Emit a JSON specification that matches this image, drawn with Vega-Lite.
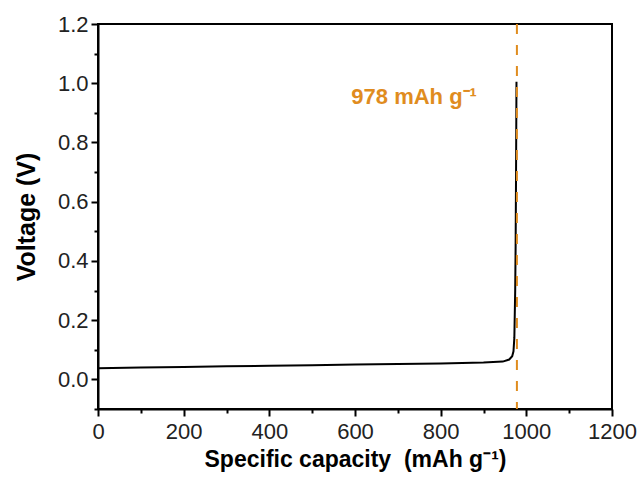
{
  "$schema": "https://vega.github.io/schema/vega-lite/v6.json",
  "autosize": "none",
  "width": 514,
  "height": 385,
  "padding": {"left": 98, "top": 24, "right": 32, "bottom": 75},
  "background": "white",
  "config": {
    "view": {"stroke": "black", "strokeWidth": 2},
    "font": "Liberation Sans",
    "axis": {
      "grid": false,
      "domainColor": "black",
      "domainWidth": 2,
      "tickColor": "black",
      "tickWidth": 2,
      "labelFont": "Liberation Sans",
      "labelFontSize": 22,
      "labelColor": "#222",
      "titleFont": "Liberation Sans",
      "titleFontWeight": "bold",
      "titleColor": "black"
    }
  },
  "datasets": {
    "curve": [
      {"capacity": 0, "voltage": 0.038},
      {"capacity": 100, "voltage": 0.040},
      {"capacity": 200, "voltage": 0.042},
      {"capacity": 300, "voltage": 0.044},
      {"capacity": 400, "voltage": 0.046},
      {"capacity": 500, "voltage": 0.048},
      {"capacity": 600, "voltage": 0.050},
      {"capacity": 700, "voltage": 0.052},
      {"capacity": 800, "voltage": 0.054},
      {"capacity": 900, "voltage": 0.057},
      {"capacity": 945, "voltage": 0.060},
      {"capacity": 960, "voltage": 0.067},
      {"capacity": 967, "voltage": 0.078},
      {"capacity": 970, "voltage": 0.095},
      {"capacity": 972, "voltage": 0.14},
      {"capacity": 974, "voltage": 0.3},
      {"capacity": 975, "voltage": 0.45},
      {"capacity": 976, "voltage": 0.7},
      {"capacity": 977, "voltage": 1.005}
    ],
    "marker": [
      {"capacity": 978, "voltage": 0.93, "label": "978 mAh g⁻¹"}
    ]
  },
  "layer": [
    {
      "data": {"name": "curve"},
      "mark": {"type": "line", "color": "black", "strokeWidth": 2},
      "encoding": {
        "x": {
          "field": "capacity", "type": "quantitative",
          "scale": {"domain": [0, 1200], "nice": false, "zero": false},
          "axis": {
            "orient": "bottom",
            "values": [0, 200, 400, 600, 800, 1000, 1200],
            "format": "d",
            "tickSize": 7,
            "labelPadding": 5,
            "labelFlush": false,
            "title": "Specific capacity \u00a0(mAh g⁻¹)",
            "titleFontSize": 23,
            "titlePadding": 6
          }
        },
        "y": {
          "field": "voltage", "type": "quantitative",
          "scale": {"domain": [-0.1, 1.2], "nice": false, "zero": false},
          "axis": {
            "orient": "left",
            "values": [0, 0.2, 0.4, 0.6, 0.8, 1.0, 1.2],
            "format": ".1f",
            "tickSize": 7,
            "labelPadding": 3,
            "labelFlush": false,
            "title": "Voltage (V)",
            "titleFontSize": 25,
            "titlePadding": 18
          }
        }
      }
    },
    {
      "data": {"name": "marker"},
      "mark": {"type": "rule", "color": "#E08C1E", "strokeWidth": 2, "strokeDash": [10, 11]},
      "encoding": {
        "x": {
          "field": "capacity", "type": "quantitative",
          "axis": {
            "orient": "bottom",
            "values": [100, 300, 500, 700, 900, 1100],
            "tickSize": 4,
            "labels": false,
            "domain": false,
            "title": null
          }
        }
      }
    },
    {
      "data": {"name": "marker"},
      "mark": {"type": "text", "color": "#E08C1E", "fontSize": 22, "fontWeight": "bold", "align": "right", "baseline": "alphabetic", "dx": -40, "font": "Liberation Sans"},
      "encoding": {
        "x": {"field": "capacity", "type": "quantitative", "axis": null},
        "y": {
          "field": "voltage", "type": "quantitative",
          "axis": {
            "orient": "left",
            "values": [-0.1, 0.1, 0.3, 0.5, 0.7, 0.9, 1.1],
            "tickSize": 4,
            "labels": false,
            "domain": false,
            "title": null
          }
        },
        "text": {"field": "label"}
      }
    }
  ],
  "resolve": {"axis": {"x": "independent", "y": "independent"}}
}
